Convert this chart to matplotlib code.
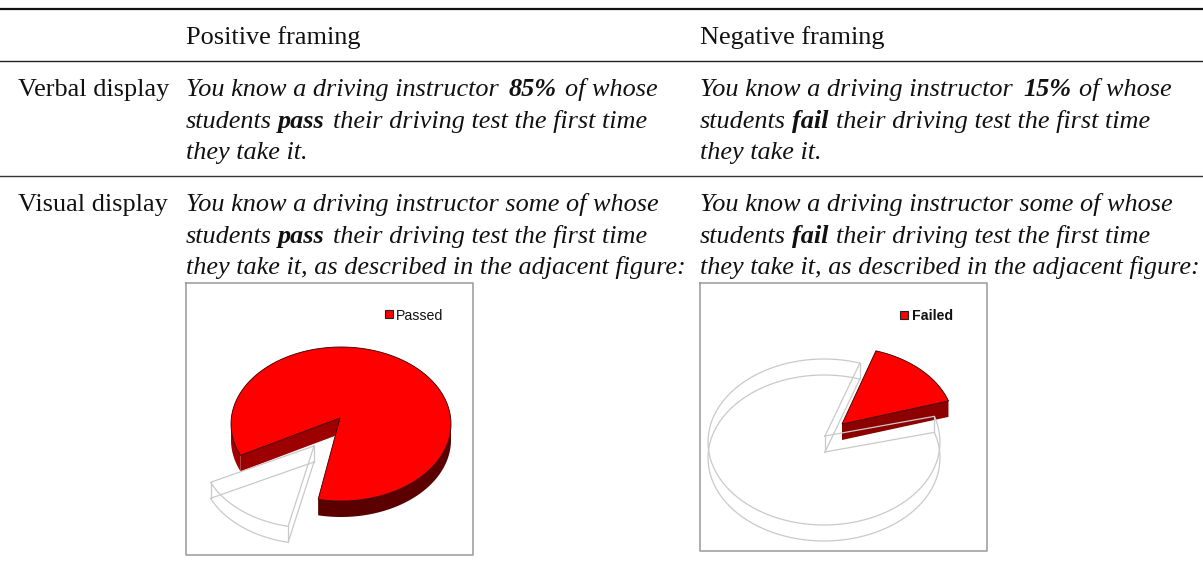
import numpy as np
import matplotlib
matplotlib.use('Agg')
import matplotlib.pyplot as plt

columns = ['Positive framing', 'Negative framing']
rows = ['Verbal display', 'Visual display']
shares = [85, 15]
legend_labels = ['Passed', 'Failed']

# each run is (x, text, bold)
verbal_pos = [[(186, 'You know a driving instructor', False), (509, '85%', True), (565, 'of whose', False)],
              [(186, 'students', False), (278, 'pass', True), (333, 'their driving test the first time', False)],
              [(186, 'they take it.', False)]]
verbal_neg = [[(700, 'You know a driving instructor', False), (1023, '15%', True), (1079, 'of whose', False)],
              [(700, 'students', False), (792, 'fail', True), (836, 'their driving test the first time', False)],
              [(700, 'they take it.', False)]]
visual_pos = [[(186, 'You know a driving instructor some of whose', False)],
              [(186, 'students', False), (278, 'pass', True), (333, 'their driving test the first time', False)],
              [(186, 'they take it, as described in the adjacent figure:', False)]]
visual_neg = [[(700, 'You know a driving instructor some of whose', False)],
              [(700, 'students', False), (792, 'fail', True), (836, 'their driving test the first time', False)],
              [(700, 'they take it, as described in the adjacent figure:', False)]]

SERIF = 'Liberation Serif'
FS = 18.9
GHOST = '#c9c9c9'
DEPTH = 16

fig = plt.figure(figsize=(12.03, 5.67), dpi=100)
ax = fig.add_axes([0, 0, 1, 1])
ax.set_xlim(0, 1203)
ax.set_ylim(567, 0)
ax.axis('off')


def put_lines(lines, baselines):
    for line, y in zip(lines, baselines):
        for x, s, bold in line:
            ax.text(x, y, s, family=SERIF, fontsize=FS, style='italic',
                    weight='bold' if bold else 'normal', va='baseline', color='#111111')


def arc(c, r, a0, a1):
    t = np.radians(np.linspace(a0, a1, 200))
    return c[0] + r[0] * np.cos(t), c[1] - r[1] * np.sin(t)


def wall(xs, ys, color):
    ax.fill(np.r_[xs, xs[::-1]], np.r_[ys, ys[::-1] + DEPTH], color=color, lw=0)


def red_top(c, r, apex, a0, a1):
    xs, ys = arc(c, r, a0, a1)
    ax.fill(np.r_[apex[0], xs], np.r_[apex[1], ys], facecolor='#ff0000', edgecolor='#300000', lw=0.6)


def ghost(c, r, apex, a0, a1):
    xs, ys = arc(c, r, a0, a1)
    for d in [0, DEPTH]:
        ax.plot(np.r_[apex[0], xs, apex[0]], np.r_[apex[1], ys, apex[1]] + d, color=GHOST, lw=0.9)
    for x, y in [apex, (xs[0], ys[0]), (xs[-1], ys[-1])]:
        ax.plot([x, x], [y, y + DEPTH], color=GHOST, lw=0.9)


def frame(x0, y0, x1, y1):
    ax.plot([x0, x1, x1, x0, x0], [y0, y0, y1, y1, y0], color='#999999', lw=1.1)


def legend(x, y, tx, label, weight):
    ax.fill([x, x + 8, x + 8, x], [y, y, y + 8, y + 8], facecolor='#ff0000', edgecolor='#222222', lw=0.8)
    ax.text(tx, y + 4, label, family='Liberation Sans', fontsize=10.2, weight=weight, va='center_baseline', color='#111111')


# table rules
ax.plot([0, 1203], [8.7, 8.7], color='#111111', lw=1.6)
ax.plot([0, 1203], [60.7, 60.7], color='#222222', lw=1.0)
ax.plot([0, 1203], [175.7, 175.7], color='#333333', lw=1.0)

ax.text(186, 44, columns[0], family=SERIF, fontsize=FS, va='baseline', color='#111111')
ax.text(700, 44, columns[1], family=SERIF, fontsize=FS, va='baseline', color='#111111')
ax.text(18, 96, rows[0], family=SERIF, fontsize=FS, va='baseline', color='#111111')
ax.text(18, 211, rows[1], family=SERIF, fontsize=FS, va='baseline', color='#111111')

put_lines(verbal_pos, [96, 128, 159])
put_lines(verbal_neg, [96, 128, 159])
put_lines(visual_pos, [211, 243, 274])
put_lines(visual_neg, [211, 243, 274])

# left pie, the pass share is solid and the fail share is only outlined
frame(186, 283, 473, 555)
c1, r1, apex1 = (341, 424), (110, 77), (340, 418)
start1 = 258
end1 = start1 + shares[0] * 3.6
xs, ys = arc(c1, r1, start1, 360)
wall(xs, ys, '#5a0000')
xs, ys = arc(c1, r1, 180, end1 - 360)
wall(xs, ys, '#a00000')
ax.fill([apex1[0], xs[-1], xs[-1], apex1[0]], [apex1[1], ys[-1], ys[-1] + DEPTH, apex1[1] + DEPTH],
        color='#9c0000', lw=0)
red_top(c1, r1, apex1, start1, end1)
ghost((311, 451), r1, (314, 446), end1, start1 + 360)
legend(385, 310, 396, legend_labels[0], 'normal')

# right pie, the other way round
frame(700, 283, 987, 551)
c2, r2, apex2 = (824, 442), (116, 83), (825, 436)
start2 = 72
end2 = start2 + shares[0] * 3.6
c3, r3, apex3 = (841, 425), (113, 78), (842, 424)
xs, ys = arc(c3, r3, end2 - 360, start2)
ax.fill([apex3[0], xs[0], xs[0], apex3[0]], [apex3[1], ys[0], ys[0] + DEPTH, apex3[1] + DEPTH],
        color='#8c0000', lw=0)
red_top(c3, r3, apex3, end2 - 360, start2)
ghost(c2, r2, apex2, start2, end2)
legend(900, 311, 912, legend_labels[1], 'bold')

fig.savefig('out.png', dpi=100)
